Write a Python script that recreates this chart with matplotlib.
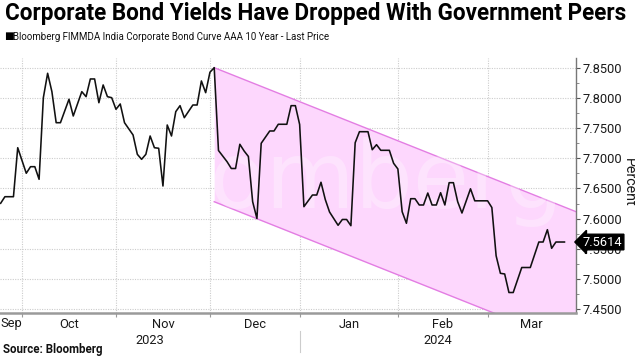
import numpy as np
import matplotlib
matplotlib.use("Agg")
import matplotlib.pyplot as plt
import matplotlib.transforms as mtransforms
from matplotlib.ticker import FixedLocator, MultipleLocator, NullFormatter

# ---------------- data ----------------
START = "2023-09-25"   # trading day 0
trading_day = [0, 1, 3, 4, 6, 7, 8, 9, 10, 11, 12, 13, 14, 16, 17, 19, 20, 21, 22, 23,
               24, 25, 26, 27, 28, 29, 31, 32, 33, 34, 35, 36, 37, 38, 39, 40, 41, 42, 43, 45,
               46, 47, 48, 49, 50, 51, 53, 54, 55, 56, 57, 58, 59, 60, 61, 63, 64, 65, 67, 68,
               69, 70, 71, 73, 74, 75, 76, 77, 79, 80, 81, 82, 83, 84, 86, 87, 88, 89, 91, 92,
               93, 94, 95, 96, 97, 98, 99, 100, 101, 102, 103, 104, 105, 106, 107, 108, 110, 111, 114, 115,
               116, 117, 118, 119, 120, 122, 124, 126, 127, 128, 129, 130, 132]
yield_pct = [7.6255, 7.6364, 7.6364, 7.7175, 7.6752, 7.6861, 7.6861, 7.6652, 7.8003, 7.8407,
             7.8103, 7.7589, 7.7589, 7.7977, 7.7700, 7.8103, 7.8020, 7.8313, 7.8313, 7.7920,
             7.8214, 7.8020, 7.8003, 7.7811, 7.7899, 7.7589, 7.7386, 7.7066, 7.6983, 7.7066,
             7.7369, 7.7175, 7.7166, 7.6541, 7.7551, 7.7369, 7.7772, 7.7871, 7.7672, 7.7882,
             7.7882, 7.8280, 7.8086, 7.8424, 7.8500, 7.7129, 7.6944, 7.6831, 7.6831, 7.7232,
             7.7121, 7.7030, 7.6281, 7.6003, 7.7248, 7.7452, 7.7452, 7.7563, 7.7563, 7.7871,
             7.7871, 7.7560, 7.6199, 7.6392, 7.6392, 7.6603, 7.6318, 7.6111, 7.5891, 7.5987,
             7.5987, 7.5884, 7.7257, 7.7440, 7.7440, 7.7142, 7.7225, 7.7132, 7.7132, 7.6917,
             7.6823, 7.6116, 7.5924, 7.6331, 7.6331, 7.6227, 7.6227, 7.6425, 7.6227, 7.6227,
             7.6430, 7.6227, 7.6596, 7.6596, 7.6281, 7.6094, 7.6495, 7.6296, 7.6296, 7.6185,
             7.5386, 7.5096, 7.5085, 7.4778, 7.4778, 7.5192, 7.5192, 7.5614, 7.5614, 7.5818,
             7.5510, 7.5614, 7.5614]
last_price = 7.5614

channel_day = [50, 134.7]
channel_upper = [7.8500, 7.6116]
channel_lower = [7.6281, 7.3897]

month_starts = ["2023-10-01", "2023-11-01", "2023-12-01", "2024-01-01", "2024-02-01", "2024-03-01"]
month_labels = ["Sep", "Oct", "Nov", "Dec", "Jan", "Feb", "Mar"]
year_labels = ["2023", "2024"]
x_range = [-0.15, 134.7]
y_range = [7.4434, 7.866]
y_ticks = [7.45, 7.50, 7.55, 7.60, 7.65, 7.70, 7.75, 7.80, 7.85]

title = "Corporate Bond Yields Have Dropped With Government Peers"
legend_label = "Bloomberg FIMMDA India Corporate Bond Curve AAA 10 Year - Last Price"
source = "Source: Bloomberg"

# ---------------- figure ----------------
W, H = 635, 357
fig = plt.figure(figsize=(W / 100, H / 100), dpi=100)
fig.patch.set_facecolor("white")
renderer = fig.canvas.get_renderer()

def fy(px):
    return 1 - px / H

def fit_width(t, target_px):
    w = t.get_window_extent(renderer).width
    t.set_fontsize(t.get_fontsize() * target_px / w)

ax_left, ax_right, ax_top, ax_bottom = 0, 576, 58, 313.3
ax = fig.add_axes([ax_left / W, fy(ax_bottom), (ax_right - ax_left) / W, (ax_bottom - ax_top) / H])
ax.set_xlim(*x_range)
ax.set_ylim(*y_range)

FONT = "Roboto"
TXT = "#1a1a1a"
TICK_FS = 9.3

pink_fill = "#fdd7fd"
pink_line = "#e37de3"
grid_c = "#cccccc"

month_pos = np.busday_count(START, month_starts)

# grid
for y in y_ticks:
    ax.axhline(y, color=grid_c, lw=0.8, ls=(0, (1, 1.2)), zorder=0)
for x in month_pos:
    ax.axvline(x, color=grid_c, lw=0.8, ls=(0, (1, 1.2)), zorder=0)

# channel
ax.fill_between(channel_day, channel_lower, channel_upper, color=pink_fill, lw=0, zorder=1)
ax.plot(channel_day, channel_upper, color=pink_line, lw=1.0, zorder=2)
ax.plot(channel_day, channel_lower, color=pink_line, lw=1.0, zorder=2)

# watermark
ax.text(65 / 576, (ax_bottom - 208) / (ax_bottom - ax_top), "Bloomberg", transform=ax.transAxes,
        fontsize=66, color="white", alpha=0.3, ha="left", va="baseline",
        family="DejaVu Sans", zorder=2.5)

# series
ax.plot(trading_day, yield_pct, color="#111111", lw=1.15, zorder=3)

# axes styling
for s in ["left", "top"]:
    ax.spines[s].set_visible(False)
ax.spines["bottom"].set_color("#9a9a9a")
ax.spines["bottom"].set_linewidth(1.8)
ax.spines["right"].set_color("#777777")
ax.spines["right"].set_linewidth(1.0)

ax.yaxis.tick_right()
ax.yaxis.set_major_locator(FixedLocator(y_ticks))
ax.yaxis.set_minor_locator(MultipleLocator(0.025))
ax.set_yticklabels([f"{v:.4f}" for v in y_ticks], family=FONT, fontsize=TICK_FS, color=TXT)
ax.tick_params(axis="y", which="major", length=3, width=0.8, color="#555555", pad=1.5)
ax.tick_params(axis="y", which="minor", length=2, width=0.6, color="#777777")

ax.xaxis.set_major_locator(FixedLocator(month_pos))
ax.xaxis.set_major_formatter(NullFormatter())
ax.tick_params(axis="x", which="major", length=3, width=0.8, color="#9a9a9a")

fig.text(628.5 / W, fy(182), "Percent", rotation=270, ha="center", va="center",
         family=FONT, fontsize=10.3, color=TXT)

# month labels centred in months
bounds = [x_range[0]] + list(month_pos) + [x_range[1]]
trans = mtransforms.blended_transform_factory(ax.transData, ax.transAxes)
axh = ax_bottom - ax_top
def ay(px):
    return -(px - ax_bottom) / axh
for i, lab in enumerate(month_labels):
    xc = (bounds[i] + bounds[i + 1]) / 2
    ax.text(xc, ay(324), lab, transform=trans, ha="center", va="center",
            family=FONT, fontsize=TICK_FS, color=TXT)
jan = month_pos[3]
ax.text((x_range[0] + jan) / 2, ay(341), year_labels[0], transform=trans, ha="center",
        va="center", family=FONT, fontsize=TICK_FS, color=TXT)
ax.text((jan + x_range[1]) / 2, ay(341), year_labels[1], transform=trans, ha="center",
        va="center", family=FONT, fontsize=TICK_FS, color=TXT)
ax.plot([jan, jan], [ay(331), ay(352)], transform=trans, color="#cccccc", lw=0.8, clip_on=False)

# last price tag
ax.annotate(f"{last_price:.4f}", xy=(1.0, last_price), xycoords=("axes fraction", "data"),
            xytext=(5, 0), textcoords="offset points", ha="left", va="center",
            family=FONT, fontsize=TICK_FS, color="white", annotation_clip=False,
            bbox=dict(boxstyle="larrow,pad=0.1", fc="black", ec="black"), zorder=5)

# titles
t = fig.text(5 / W, fy(20), title, ha="left", va="baseline", fontsize=16,
             fontweight="bold", family=FONT, color="black")
fit_width(t, 623)
fig.text(4 / W, fy(36), "\u25A0", ha="left", va="center", fontsize=7.5, family="DejaVu Sans")
s = fig.text(13 / W, fy(39.5), legend_label, ha="left", va="baseline", fontsize=9,
             family=FONT, color="#111111")
fit_width(s, 320)
src = fig.text(3 / W, fy(353.5), source, ha="left", va="baseline", fontsize=8.5,
               fontweight="bold", family=FONT, color="#111111")
fit_width(src, 99)

fig.savefig("out.png", dpi=100, facecolor="white")
